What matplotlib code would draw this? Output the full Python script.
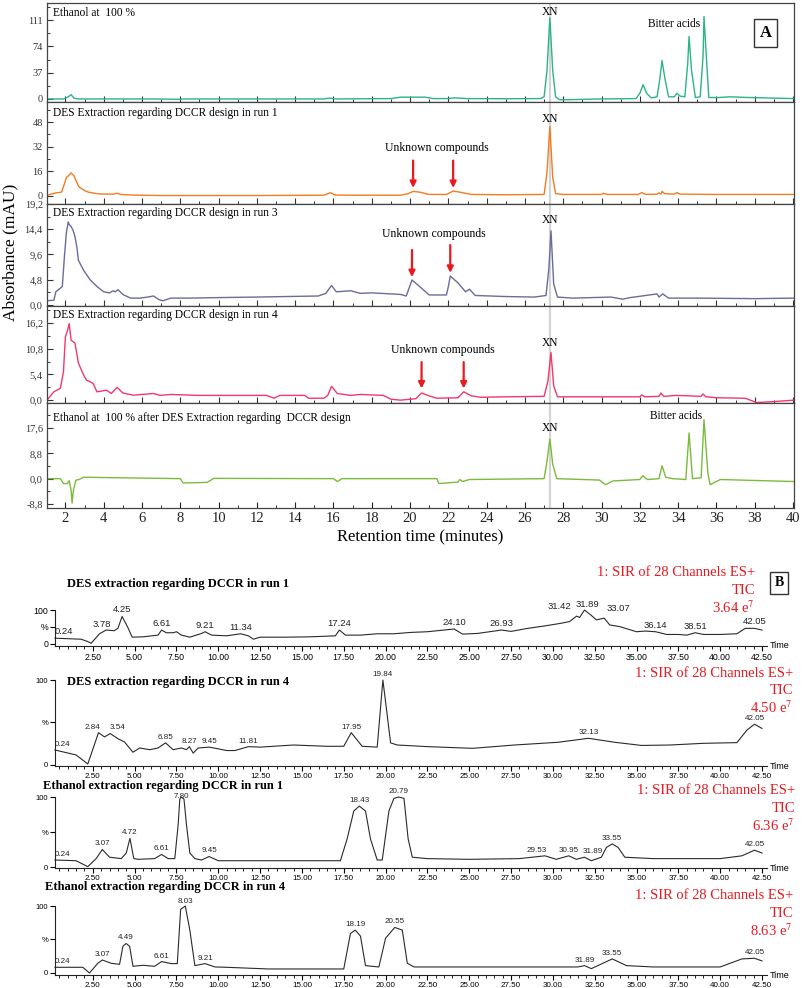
import matplotlib
matplotlib.use("Agg")
import matplotlib.pyplot as plt
import numpy as np
from matplotlib.ticker import MultipleLocator

plt.rcParams['font.family'] = ['Liberation Serif', 'DejaVu Serif']
plt.rcParams['mathtext.fontset'] = 'stix'

# ---------------- panel A: HPLC traces (time in min, absorbance in mAU) ----------------
a1_t = [1.04, 1.9, 2.15, 2.3, 2.45, 2.7, 4, 6.5, 8.0, 8.2, 10, 15.5, 15.8, 16.1, 19.0, 19.5, 20.2, 20.8,
        21.2, 22.0, 22.3, 23, 25, 26.8, 27.0, 27.15, 27.3, 27.45, 27.6, 27.8, 28.3, 30, 31.8, 32.0, 32.17,
        32.35, 32.6, 32.9, 33.05, 33.16, 33.3, 33.5, 33.8, 33.94, 34.1, 34.35, 34.5, 34.57, 34.7, 34.9,
        35.15, 35.3, 35.35, 35.45, 35.6, 36.1, 36.7, 37.7, 40.05]
a1_v = [0, 0, 3, 6, 1, 0, 0, 0, -0.5, 0, 0, 0, 1.2, 0, 0.5, 2.5, 2.5, 2.5, 0.5, 0.5, 1.5, 0.5, 0.3, 0.5,
        3, 40, 114, 40, 3, -1, -1, 0, 0.5, 8, 20, 8, 1.5, 3, 30, 54, 30, 3, 3, 8, 4, 3, 50, 88, 40, 2,
        3, 60, 116, 70, 2, 2, 3, 2, 0.5]

a2_t = [1.04, 1.5, 1.8, 1.95, 2.05, 2.15, 2.3, 2.45, 2.7, 3.0, 3.2, 3.5, 3.8, 4.5, 4.7, 4.9, 5.5, 7, 10,
        12, 15.5, 15.84, 16.1, 17, 19.5, 19.9, 20.16, 20.5, 21.0, 21.9, 22.25, 22.6, 23.2, 25, 27.0,
        27.15, 27.3, 27.45, 27.6, 28, 30.0, 30.1, 30.3, 31.9, 32.1, 32.3, 32.9, 33.0, 33.1, 33.16, 33.3,
        33.8, 33.94, 34.1, 36, 40.05]
a2_v = [0.5, 2, 2.5, 8, 12, 13, 15, 13, 6, 3.5, 2.5, 1.8, 1.3, 1.2, 1.8, 1.0, 0.6, 0.3, 0.3, 0.3, 0.5,
        2.1, 0.6, 0.5, 0.5, 1.5, 3.0, 2.5, 1.0, 1.0, 3.2, 2.5, 1.0, 0.8, 1, 15, 45, 12, 1.5, 1, 1.0,
        1.8, 1.0, 1.0, 2.2, 1.0, 1.2, 2.0, 1.3, 3.0, 1.5, 1.2, 2.2, 1.2, 1.0, 1.0]

a3_t = [1.04, 1.4, 1.5, 1.84, 1.95, 2.05, 2.15, 2.2, 2.3, 2.4, 2.5, 2.6, 2.68, 2.95, 3.3, 3.65, 4.0, 4.3,
        4.5, 4.6, 4.75, 5.0, 5.4, 5.9, 6.3, 6.6, 6.9, 7.1, 7.5, 8.5, 10, 12, 13.5, 15.2, 15.6, 15.9,
        16.15, 16.9, 17.4, 18, 19.5, 19.8, 20.1, 20.5, 21.0, 21.9, 22.0, 22.1, 22.5, 22.9, 23.1, 23.4,
        25, 26.5, 27.1, 27.25, 27.36, 27.5, 27.7, 28.5, 30.5, 31.1, 31.5, 32.9, 33.0, 33.2, 33.5, 35,
        38, 40.05]
a3_v = [0.8, 0.9, 2.5, 3.5, 9.2, 13.7, 15.8, 15.3, 14.9, 14.2, 13.0, 11, 8.5, 6.6, 4.75, 3.5, 2.5, 2.3,
        2.7, 2.5, 2.9, 2.0, 1.3, 1.3, 1.5, 1.7, 1.0, 0.8, 1.3, 1.3, 1.4, 1.5, 1.6, 1.7, 2.2, 3.7, 2.5,
        2.7, 2.2, 2.3, 2.0, 1.7, 4.75, 3.5, 1.9, 1.9, 3.5, 5.5, 4.2, 2.5, 3.0, 1.8, 1.6, 1.5, 1.8, 7,
        14.1, 4, 1.5, 1.3, 1.5, 1.1, 1.4, 2.1, 1.5, 2.1, 1.3, 1.3, 1.2, 1.3]

a4_t = [1.04, 1.4, 1.74, 1.9, 2.0, 2.1, 2.2, 2.3, 2.5, 2.68, 2.95, 3.1, 3.3, 3.45, 3.65, 4.15, 4.4, 4.7,
        5.0, 5.55, 6.6, 6.95, 7.5, 9, 12.5, 12.9, 13.2, 14.5, 14.7, 15.5, 15.7, 15.9, 16.2, 16.9, 17.4,
        18.6, 19.0, 19.5, 20.3, 20.6, 21.0, 21.4, 22.5, 22.8, 23.2, 23.7, 25, 27.0, 27.2, 27.36, 27.5,
        27.7, 29, 32.0, 32.1, 32.25, 33.0, 33.1, 33.25, 33.9, 34.6, 35.2, 35.3, 35.45, 36, 37.5, 38.1,
        39, 40.05]
a4_v = [0, 1.75, 2.5, 6, 13.3, 14.5, 16.1, 12.6, 12, 7.8, 5.3, 4.2, 3.85, 3.5, 1.75, 2.1, 1.4, 2.7, 1.5,
        1.05, 1.4, 1.0, 1.2, 1.0, 1.0, 0.4, 1.0, 1.0, 0.4, 0.4, 1.0, 2.9, 1.4, 1.0, 1.2, 1.0, 0.2, 0.0,
        0.3, 1.5, 0.9, 0.4, 0.5, 1.75, 0.9, 0.6, 0.7, 0.8, 4, 10, 3, 0.7, 0.7, 0.7, 1.1, 0.7, 0.8, 1.5,
        0.8, 1.0, 0.9, 0.8, 1.3, 0.7, 0.5, 0.4, -0.5, -0.3, 0.0]

a5_t = [1.04, 1.74, 1.9, 2.1, 2.2, 2.3, 2.35, 2.42, 2.55, 2.7, 2.95, 8.0, 8.15, 9.4, 9.75, 16.0, 16.2,
        16.45, 19.5, 21.4, 21.5, 22.5, 22.6, 22.75, 23.1, 27.0, 27.15, 27.3, 27.45, 27.66, 29.9, 30.2,
        30.6, 32.0, 32.15, 32.4, 33.0, 33.16, 33.35, 33.7, 34.4, 34.57, 34.75, 35.2, 35.35, 35.55,
        35.67, 36.2, 40.05]
a5_v = [0, 0, -1.7, -1.7, -0.7, -4, -8.5, -4, -0.5, -0.35, 0.5, 0, -1.5, -1.3, 0.1, 0, -1.0, 0, 0, 0,
        -1.7, -1.2, -0.3, -1.0, -0.3, 0, 6, 13.8, 5, 0, -0.5, -2.1, -0.8, -0.3, 1.0, -0.3, 0, 4.5, 0.5,
        0, -0.3, 15.9, 0, 0.3, 20.5, 2, -2.1, -0.3, -1.0]

a_titles = ['Ethanol at  100 %',
            'DES Extraction regarding DCCR design in run 1',
            'DES Extraction regarding DCCR design in run 3',
            'DES Extraction regarding DCCR design in run 4',
            'Ethanol at  100 % after DES Extraction regarding  DCCR design']
a_colors = ['#2bb487', '#f27c1f', '#6a6c9a', '#f2386e', '#7bbb3c']
a_yticks = [[0, 37, 74, 111], [0, 16, 32, 48], [0, 4.8, 9.6, 14.4, 19.2],
            [0, 5.4, 10.8, 16.2], [-8.8, 0, 8.8, 17.6]]
a_yticklabels = [['0', '37', '74', '111'], ['0', '16', '32', '48'],
                 ['0,0', '4,8', '9,6', '14,4', '19,2'], ['0,0', '5,4', '10,8', '16,2'],
                 ['-8,8', '0,0', '8,8', '17,6']]
a_ylims = [(-4.3, 135), (-5.2, 61), (-0.2, 19.2), (-0.6, 19.8), (-10.2, 26.3)]
a_title_y = [0.90, 0.89, 0.91, 0.905, 0.857]
a_rows = [(3, 102), (102, 204), (204, 306), (306, 403), (403, 508)]

xn_time = 27.33
xn_label_y = [123, 50, 16.2, 12, 17.6]
bitter_pos = {0: (33.8, 105), 4: (33.9, 21.9)}
unknown_text = {1: (21.4, 31), 2: (21.25, 13.5), 3: (21.7, 10.5)}
unknown_arrows = {1: [(20.16, 23, 5.2), (22.25, 23, 5.2)],
                  2: [(20.1, 10.45, 5.3), (22.1, 11.4, 6.1)],
                  3: [(20.6, 8.0, 2.45), (22.8, 8.0, 2.45)]}

# ---------------- panel B: SIR TIC traces (time in min, relative %) ----------------
b1_t = [0.24, 1.8, 2.2, 2.4, 2.9, 3.3, 3.78, 4.0, 4.25, 4.6, 4.85, 5.5, 6.4, 6.61, 6.9, 7.3, 7.5, 7.8,
        8.3, 9.0, 9.21, 9.6, 10.5, 11.34, 11.8, 12.1, 12.5, 14.0, 15.5, 17.0, 17.24, 17.6, 18.5, 19.5,
        20.5, 21.5, 22.5, 24.10, 24.6, 25.5, 26.93, 27.5, 28.5, 29.5, 30.5, 31.0, 31.42, 31.6, 31.89,
        32.3, 32.6, 33.07, 33.4, 34.0, 35.0, 35.5, 36.14, 36.8, 37.5, 38.0, 38.51, 39.0, 40.0, 41.0,
        41.5, 42.05, 42.5]
b1_v = [17, 14, 7, 2, 30, 41, 39, 46, 81, 48, 20, 21, 26, 41, 33, 33, 36, 26, 20, 31, 36, 26, 24, 30, 24,
        14, 20, 20, 21, 24, 41, 26, 26, 30, 30, 34, 36, 44, 29, 31, 41, 37, 46, 53, 61, 66, 82, 78, 100,
        84, 71, 76, 56, 51, 36, 38, 36, 28, 28, 26, 33, 28, 28, 30, 46, 46, 41]
b1_peaks = [0.24, 3.78, 4.25, 6.61, 9.21, 11.34, 17.24, 24.10, 26.93, 31.42, 31.89, 33.07, 36.14,
            38.51, 42.05]

b2_t = [0.24, 1.5, 2.2, 2.84, 3.2, 3.54, 4.0, 4.4, 4.9, 5.3, 5.9, 6.4, 6.85, 7.3, 7.8, 8.1, 8.27, 8.5,
        8.8, 9.45, 10.0, 10.5, 11.0, 11.81, 12.5, 14.5, 16.5, 17.5, 17.95, 18.6, 19.5, 19.84, 20.3,
        20.7, 22.5, 25.2, 27.7, 30.3, 32.13, 33.7, 35.3, 37.0, 39.0, 41.0, 41.6, 42.05, 42.5]
b2_v = [17.6, 11.8, 1.2, 38, 33, 37, 31, 27, 15, 20, 18, 20, 26, 18, 20, 18, 21.6, 14, 20, 21, 19, 17,
        17, 21.6, 21, 23.5, 22, 22, 38, 22, 21, 100, 26, 23.5, 21.6, 19.6, 23.5, 26.7, 31.4, 26.7, 23,
        23.5, 25.5, 26.3, 41, 48, 43]
b2_peaks = [0.24, 2.84, 3.54, 6.85, 8.27, 9.45, 11.81, 17.95, 19.84, 32.13, 42.05]

b3_t = [0.24, 1.5, 2.2, 2.7, 3.07, 3.5, 4.2, 4.5, 4.72, 4.95, 5.2, 6.2, 6.61, 7.0, 7.4, 7.6, 7.7, 7.80,
        7.95, 8.1, 8.3, 8.6, 9.0, 9.45, 10.0, 12.0, 17.3, 17.7, 18.1, 18.43, 18.8, 19.1, 19.5, 19.8,
        20.2, 20.5, 20.79, 21.1, 21.35, 21.6, 22.5, 25.0, 28.0, 29.53, 30.2, 30.95, 31.4, 31.89, 32.3,
        32.9, 33.2, 33.55, 33.9, 34.3, 36.0, 40.0, 41.3, 42.05, 42.5]
b3_v = [10, 9, 0.5, 12, 25, 14, 12, 20, 41, 12, 11, 12, 18, 12, 12, 60, 97, 100, 97, 60, 20, 12, 10, 15,
        9, 9, 9, 40, 80, 87, 80, 40, 10, 10, 80, 98, 100, 98, 40, 14, 12, 11, 12, 16, 11, 16, 11, 14, 9,
        14, 28, 33, 28, 14, 12, 12, 16, 24, 20]
b3_peaks = [0.24, 3.07, 4.72, 6.61, 7.80, 9.45, 18.43, 20.79, 29.53, 30.95, 31.89, 33.55, 42.05]

b4_t = [0.24, 1.9, 2.3, 2.8, 3.07, 3.6, 4.1, 4.3, 4.49, 4.7, 4.9, 5.5, 6.2, 6.61, 7.2, 7.55, 7.75, 8.03,
        8.3, 8.6, 9.21, 9.8, 10.5, 13.0, 17.5, 17.9, 18.19, 18.5, 18.8, 19.6, 20.0, 20.55, 21.0, 21.3,
        21.7, 31.5, 31.89, 32.3, 33.55, 34.4, 36.0, 40.0, 41.3, 42.05, 42.5]
b4_v = [8.5, 8.5, 0, 14.5, 19.4, 14.5, 13, 40, 44, 40, 10, 11.5, 10, 17, 14, 14, 95, 100, 64, 11, 14,
        9, 8.5, 6, 6, 59, 64, 55, 11, 9, 52, 68, 64, 14.5, 9, 9, 11, 6.5, 21, 11, 9, 9, 21, 22, 18]
b4_peaks = [0.24, 3.07, 4.49, 6.61, 8.03, 9.21, 18.19, 20.55, 31.89, 33.55, 42.05]

b_titles = ['DES extraction regarding DCCR in run 1', 'DES extraction regarding DCCR in run 4',
            'Ethanol extraction regarding DCCR in run 1', 'Ethanol extraction regarding DCCR in run 4']
b_scale = ['3.64', '4.50', '6.36', '8.63']

# ---------------- layout ----------------
W, H = 803, 988
fig = plt.figure(figsize=(W / 100, H / 100), dpi=100)


def box(l, t, r, b):
    return [l / W, 1 - b / H, (r - l) / W, (b - t) / H]


RED = '#e8191f'
a_t = [a1_t, a2_t, a3_t, a4_t, a5_t]
a_v = [a1_v, a2_v, a3_v, a4_v, a5_v]

for i in range(5):
    top, bot = a_rows[i]
    ax = fig.add_axes(box(47, top, 794, bot))
    ax.axvline(xn_time, color='#d4d4d4', lw=1.6, zorder=0)
    ax.plot(a_t[i], a_v[i], color=a_colors[i], lw=1.0)
    ax.set_xlim(1.04, 40.05)
    ax.set_ylim(*a_ylims[i])
    ax.set_yticks(a_yticks[i])
    ax.set_yticklabels(a_yticklabels[i], fontsize=7.5)
    step = a_yticks[i][1] - a_yticks[i][0]
    ax.yaxis.set_minor_locator(MultipleLocator(step / 2))
    ax.xaxis.set_major_locator(MultipleLocator(2))
    ax.xaxis.set_minor_locator(MultipleLocator(1))
    ax.tick_params(which='both', direction='in', top=False, right=False, colors='#333333', pad=3)
    ax.tick_params(which='major', length=4, width=0.8)
    ax.tick_params(which='minor', length=2, width=0.7)
    for s in ax.spines.values():
        s.set_color('#444444')
        s.set_linewidth(0.9)
    if i < 4:
        ax.tick_params(axis='x', labelbottom=False)
    else:
        ax.tick_params(axis='x', labelsize=10.5, colors='#222222')
        ax.set_xlabel('Retention time (minutes)', fontsize=12, labelpad=3)
    ax.text(0.008, a_title_y[i], a_titles[i], transform=ax.transAxes, fontsize=8.3, va='center')
    ax.text(xn_time, xn_label_y[i], 'XN', fontsize=8.3, ha='center', va='center')
    if i in bitter_pos:
        ax.text(*bitter_pos[i], 'Bitter acids', fontsize=8.3, ha='center', va='center')
    if i in unknown_text:
        ax.text(*unknown_text[i], 'Unknown compounds', fontsize=8.5, ha='center', va='center')
        for (xt, y0, y1) in unknown_arrows[i]:
            ax.annotate('', xy=(xt, y1), xytext=(xt, y0),
                        arrowprops=dict(arrowstyle='-|>', color=RED, lw=1.6, mutation_scale=9,
                                        shrinkA=0, shrinkB=0))
    if i == 0:
        ax.text(0.962, 0.7, 'A', transform=ax.transAxes, fontsize=12, fontweight='bold',
                ha='center', va='center',
                bbox=dict(boxstyle='square,pad=0.35', fc='white', ec='#333333', lw=1.0))

fig.text(10 / W, 1 - 252 / H, 'Absorbance (mAU)', rotation=90, fontsize=12.5, ha='center', va='center')

# ---------------- panel B ----------------
b_t = [b1_t, b2_t, b3_t, b4_t]
b_v = [b1_v, b2_v, b3_v, b4_v]
b_peaks = [b1_peaks, b2_peaks, b3_peaks, b4_peaks]
b_rows = [(610, 646), (680, 766), (797, 868), (906, 975)]
b_ylims = [(-6, 100), (-1.2, 100), (-1.4, 100), (-3, 100)]
b_title_pos = [(67, 584), (67, 682), (43, 786), (45, 887)]
b_red_pos = [(755, [573, 591, 608]), (793, [673, 690, 708]),
             (795, [790, 808, 826]), (793, [895, 913, 931])]
label_shift = {(0, 3.78): (-9, 0), (0, 31.42): (-12, 2), (0, 33.07): (10, 2), (0, 31.89): (2, -1),
               (1, 2.84): (-4, 0), (1, 3.54): (5, 0), (2, 29.53): (-6, 0), (2, 31.89): (6, 0),
               (2, 7.80): (0, -3.5), (3, 8.03): (0, -1)}
sans = ['Liberation Sans', 'DejaVu Sans']

for k in range(4):
    top, bot = b_rows[k]
    ax = fig.add_axes(box(55, top, 767, bot))
    ax.plot(b_t[k], b_v[k], color='#2a2a2a', lw=0.8, clip_on=False)
    ax.set_xlim(0.24, 42.8)
    ax.set_ylim(*b_ylims[k])
    ax.spines['top'].set_visible(False)
    ax.spines['right'].set_visible(False)
    ax.spines['left'].set_color('#222222')
    ax.spines['bottom'].set_color('#222222')
    ticks = np.arange(2.5, 42.6, 2.5)
    ax.set_xticks(ticks)
    ax.set_xticklabels(['%.2f' % v for v in ticks], fontsize=6.3 if k == 0 else 5.8, family=sans)
    ax.xaxis.set_minor_locator(MultipleLocator(0.5))
    ax.set_yticks([0, 50, 100])
    ax.set_yticklabels(['0', '%', '100'], fontsize=6.3 if k == 0 else 5.5, family=sans)
    ax.tick_params(which='major', length=3.5, width=0.8, pad=1.5)
    ax.tick_params(which='minor', length=2, width=0.6)
    ax.text(1.004, 0, 'Time', transform=ax.transAxes, fontsize=6.5, family=sans, va='center', ha='left')
    fs = 6.8 if k == 0 else 5.8
    for p in b_peaks[k]:
        val = np.interp(p, b_t[k], b_v[k])
        dx, dy = label_shift.get((k, p), (0, 0))
        ha = 'left' if p < 1 else 'center'
        ax.annotate('%.2f' % p, (p, val), xytext=(dx, 1.5 + dy), textcoords='offset points',
                    ha=ha, va='bottom', fontsize=fs, family=sans, color='#222222')
    tx, ty = b_title_pos[k]
    fig.text(tx / W, 1 - ty / H, b_titles[k], fontsize=9, fontweight='bold', ha='left', va='center')
    rx, rys = b_red_pos[k]
    for txt, ry in zip(['1: SIR of 28 Channels ES+', 'TIC', b_scale[k] + ' e$^7$'], rys):
        fig.text(rx / W, 1 - ry / H, txt, fontsize=10.5, color=RED, ha='right', va='center')

fig.text(779 / W, 1 - 583 / H, 'B', fontsize=10, fontweight='bold', ha='center', va='center',
         bbox=dict(boxstyle='square,pad=0.35', fc='white', ec='#333333', lw=1.0))

fig.savefig('out.png', dpi=100, facecolor='white')
